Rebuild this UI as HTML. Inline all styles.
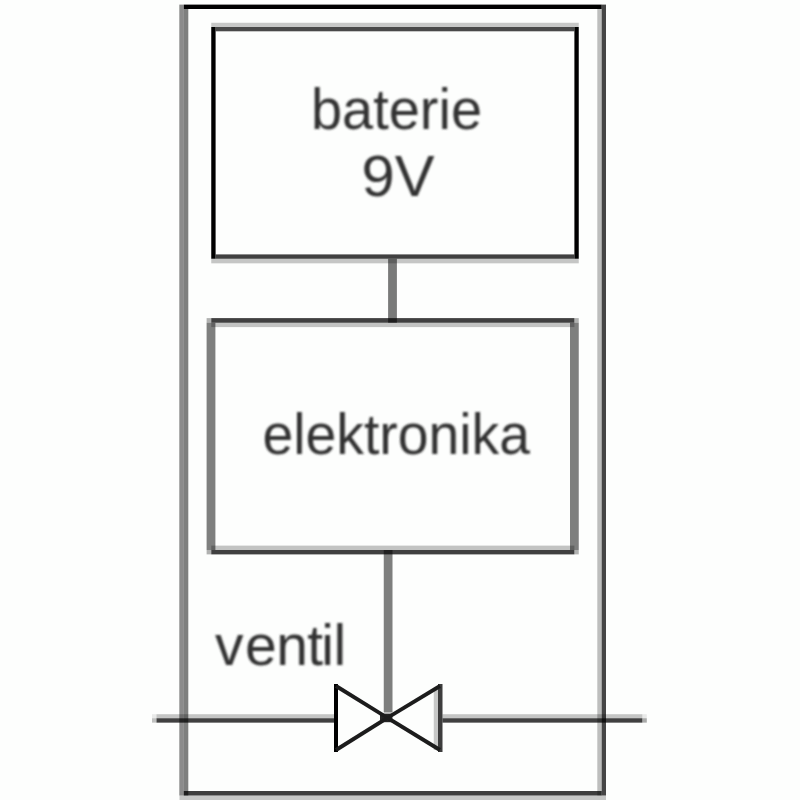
<!DOCTYPE html>
<html lang="cs">
<head>
<meta charset="utf-8">
<title>baterie 9V – elektronika – ventil</title>
<style>
  html, body { margin: 0; padding: 0; background: #fdfefd; }
  body { width: 800px; height: 800px; overflow: hidden; }
  svg { display: block; }
  text { font-family: "Liberation Sans", sans-serif; font-size: 57px; fill: #303030; }
</style>
</head>
<body>
<svg width="800" height="800" viewBox="0 0 800 800">
  <defs>
    <filter id="soft" x="-5%" y="-20%" width="110%" height="140%">
      <feGaussianBlur stdDeviation="1.1"/>
    </filter>
    <filter id="soft2" x="-10%" y="-10%" width="120%" height="120%">
      <feGaussianBlur stdDeviation="0.6"/>
    </filter>
  </defs>
  <rect x="0" y="0" width="800" height="800" fill="#fdfefd"/>

  <!-- outer frame -->
  <g fill="#000">
    <rect x="179.3" y="4.6" width="4.5" height="790.9" fill-opacity="0.45"/>
    <rect x="183.8" y="9" width="4.5" height="786.5" fill-opacity="0.5"/>
    <rect x="183.8" y="4.6" width="417.9" height="4.4"/>
    <rect x="597.3" y="9" width="4.4" height="786.5" fill-opacity="0.25"/>
    <rect x="601.7" y="4.6" width="4.3" height="790.9" fill-opacity="0.73"/>
    <rect x="183.8" y="791" width="417.9" height="4.5" fill-opacity="0.76"/>
    <rect x="179.5" y="795.5" width="426.5" height="4.5" fill-opacity="0.22"/>
  </g>

  <!-- battery box -->
  <g fill="#000">
    <rect x="211.25" y="22.75" width="367.5" height="4.25" fill-opacity="0.21"/>
    <rect x="215.6" y="27" width="358.8" height="4.3" fill-opacity="0.715"/>
    <rect x="211.25" y="27" width="4.35" height="231.75"/>
    <rect x="574.4" y="27" width="4.35" height="231.75"/>
    <rect x="215.6" y="254.4" width="358.8" height="4.35" fill-opacity="0.75"/>
    <rect x="211.25" y="258.75" width="367.5" height="4.6" fill-opacity="0.22"/>
  </g>

  <!-- connector battery - electronics -->
  <rect x="388.1" y="258.75" width="8.8" height="64" fill="#000" fill-opacity="0.52"/>

  <!-- electronics box -->
  <g fill="#000">
    <rect x="206.6" y="318.1" width="4.65" height="4.65" fill-opacity="0.3"/>
    <rect x="574.4" y="318.1" width="4.35" height="4.65" fill-opacity="0.3"/>
    <rect x="211.25" y="318.1" width="363.15" height="4.65" fill-opacity="0.75"/>
    <rect x="211.25" y="322.75" width="363.15" height="4.35" fill-opacity="0.23"/>
    <rect x="206.6" y="322.75" width="8.8" height="227.25" fill-opacity="0.5"/>
    <rect x="570" y="322.75" width="8.75" height="227.25" fill-opacity="0.5"/>
    <rect x="211.25" y="545.6" width="363.15" height="4.4" fill-opacity="0.23"/>
    <rect x="206.6" y="550" width="4.65" height="4.4" fill-opacity="0.3"/>
    <rect x="574.4" y="550" width="4.35" height="4.4" fill-opacity="0.3"/>
    <rect x="211.25" y="550" width="363.15" height="4.4" fill-opacity="0.75"/>
  </g>

  <!-- connector electronics - valve -->
  <rect x="383.75" y="550" width="8.75" height="162.5" fill="#000" fill-opacity="0.5"/>

  <!-- pipe -->
  <g fill="#000">
    <rect x="152" y="714.2" width="4.5" height="4.05" fill-opacity="0.08"/>
    <rect x="152" y="718.25" width="4.5" height="4.4" fill-opacity="0.24"/>
    <rect x="156.5" y="714.2" width="177.5" height="4.05" fill-opacity="0.225"/>
    <rect x="156.5" y="718.25" width="177.5" height="4.4" fill-opacity="0.75"/>
    <rect x="442.5" y="714.2" width="199.8" height="4.05" fill-opacity="0.225"/>
    <rect x="442.5" y="718.25" width="199.8" height="4.4" fill-opacity="0.75"/>
    <rect x="642.3" y="714.2" width="4.5" height="4.05" fill-opacity="0.08"/>
    <rect x="642.3" y="718.25" width="4.5" height="4.4" fill-opacity="0.33"/>
  </g>

  <!-- valve -->
  <g>
    <rect x="334" y="684" width="4" height="68" fill="#000"/>
    <rect x="433.75" y="688" width="4.25" height="62" fill="#000" fill-opacity="0.21"/>
    <rect x="438" y="684" width="4.5" height="68" fill="#000" fill-opacity="0.76"/>
    <rect x="380" y="713.6" width="12.4" height="8.6" fill="#000" fill-opacity="0.85" filter="url(#soft2)"/>
    <path d="M336 686 L387.4 717.8 L440 686 M336 750 L387.4 717.8 L440 750" stroke="#1e1e1e" stroke-width="3.9" fill="none" filter="url(#soft2)"/>
  </g>

  <!-- labels -->
  <g filter="url(#soft)">
    <text x="311" y="128.8" textLength="171" lengthAdjust="spacingAndGlyphs">baterie</text>
    <text x="361.5" y="195.5" textLength="73" lengthAdjust="spacingAndGlyphs">9V</text>
    <text x="262.5" y="454.2" textLength="267.5" lengthAdjust="spacingAndGlyphs">elektronika</text>
    <text x="215 245 276.2 307.2 321.2 333.4" y="664.5">ventil</text>
  </g>
</svg>
</body>
</html>
